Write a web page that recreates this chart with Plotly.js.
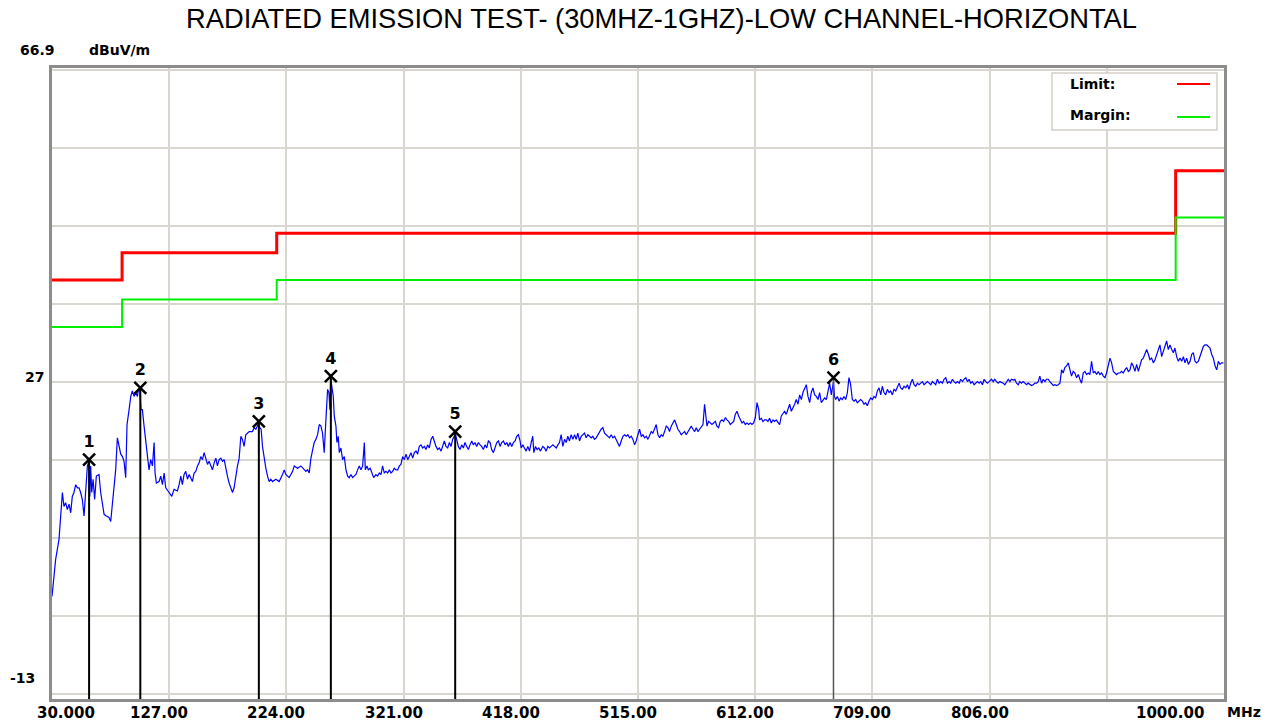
<!DOCTYPE html>
<html>
<head>
<meta charset="utf-8">
<script src="https://cdn.plot.ly/plotly-3.0.1.min.js"></script>
<style>html,body{margin:0;padding:0;background:#fff;}#chart{width:1275px;height:722px;}</style>
</head>
<body>
<div id="chart"></div>
<script>
// ---------------- DATA ----------------
const chartTitle = 'RADIATED EMISSION TEST- (30MHZ-1GHZ)-LOW CHANNEL-HORIZONTAL';
const yUnit = 'dBuV/m';
const xUnit = 'MHz';

// limit and margin (step lines, dBuV/m)
const limitFreq  = [30, 88, 216, 960, 1000];
const limitLevel = [40, 43.5, 46, 54, 54];
const marginLevel = [34, 37.5, 40, 48, 48];

const freqA = [30.0,31.7,33.0,35.8,37.2,38.6,39.9,41.3,42.7,44.1,45.5,46.8,48.2,49.6,51.0,52.4,53.7,55.1,56.5,57.9,
59.3,60.6,61.3,62.0,62.9,64.0,65.3,66.7,68.9,70.3,71.7,73.1,75.0,77.2,78.6,80.0,81.3,82.7,84.1,85.5,
86.9,88.3,89.6,91.0,92.1,93.8,95.2,96.5,97.9,99.3,100.7,101.5,102.6,103.7,104.8,106.2,107.6,109.0,110.3,111.7,
113.1,114.5,115.3,116.4,118.6,120.0,121.4,122.8,124.1,126.9,129.1,131.0,133.8,135.2,136.6,137.9,139.3,140.7,142.1,143.5,
144.9,146.2,147.6,149.0,150.4,151.8,153.1,154.5,155.9,157.3,158.7,160.0,161.4,162.8,164.2,165.6,166.9,168.3,169.7,171.1,
172.5,173.8,175.2,176.6,178.0,179.4,180.7,182.1,183.5,184.9,186.3,187.6,189.0,190.4,191.8,193.2,195.9,197.3,198.7,200.1,
200.9,202.0,203.1,204.2,205.6,207.0,208.4,209.7,211.1,212.5,215.3,218.0,220.8,222.2,223.5];
const levelA = [-0.5,2.1,4.2,6.8,10.2,12.8,11.0,11.5,10.6,11.3,10.2,12.3,12.8,13.8,13.4,13.4,12.8,11.9,9.8,13.6,
16.2,16.8,12.3,16.2,12.8,14.5,11.9,14.9,15.1,12.8,11.5,10.0,9.8,9.6,9.1,11.5,12.8,15.7,19.8,18.7,
17.7,17.4,16.8,14.7,21.5,23.4,25.1,25.8,25.1,25.6,25.1,26.0,26.1,23.4,23.4,21.3,19.2,17.2,15.7,17.0,
16.2,19.2,15.3,14.0,14.2,14.9,13.8,15.3,13.4,12.8,12.3,13.2,13.0,13.8,14.9,13.8,15.1,15.5,14.5,15.1,
14.7,14.2,15.3,15.5,16.2,16.6,17.4,17.0,17.9,17.2,16.4,16.8,16.2,15.7,16.6,17.2,16.2,17.0,17.2,16.8,
17.0,15.7,14.9,14.0,13.4,12.8,13.4,14.9,16.2,17.2,20.0,19.6,18.7,20.2,20.4,20.6,20.6,21.1,20.9,21.3,
21.6,21.1,20.9,18.7,17.0,15.9,14.9,14.2,14.5,14.2,14.5,14.2,15.1,15.7,15.1];

const freqB = [225.0,226.3,227.7,229.1,230.5,233.2,236.0,238.8,240.1,241.5,
242.9,244.3,245.7,247.0,248.4,249.8,251.2,252.6,253.9,255.3,
256.7,258.1,259.2,260.0,260.6,261.7,262.8,263.6,265.0,265.8,
266.9,267.8,269.1,270.5,271.9,273.3,274.7,276.0,277.4,278.8,
280.2,281.6,282.9,284.3,285.7,287.1,288.5,289.3,290.7,291.8,
293.4,294.5,296.2,298.1,299.5,300.9,302.3,303.6,305.0,306.4,
307.8,309.2,310.6,311.9,313.3,314.7,316.1,317.5,318.8,320.2,
321.6,323.0,324.4,325.7,327.1,328.5,329.9,331.3,332.6,334.0,
335.4,336.8,338.2,339.5,340.9,342.3,343.7,345.1,346.4,347.8,
349.2,350.6,352.0,353.3,354.7,356.1,357.5,358.9,360.3,361.6,
363.0,363.8,365.2,366.3,367.7,369.1,370.5,371.8,373.2,374.6,
376.0,377.4,378.7,380.1,381.5,382.9,384.3,385.6,387.0,388.4,
389.8,391.2,392.6,393.9,395.3,396.7,398.1,399.5,400.8,402.2,
403.6,405.0,406.4,407.7,409.1,410.5,411.9,413.3,414.6,416.0,
417.4];
const levelB = [14.9,14.7,15.1,15.5,16.2,15.9,16.2,15.7,15.5,15.7,
15.3,17.2,18.3,19.2,19.6,20.2,21.5,21.3,20.4,17.9,
22.1,26.0,25.6,23.4,27.4,26.4,25.1,22.6,21.3,19.2,
20.0,17.9,18.5,17.0,17.4,15.7,14.9,14.7,15.1,14.7,
14.9,15.1,15.7,16.2,15.7,16.2,19.2,15.7,16.2,15.7,
15.9,15.3,14.7,15.1,14.9,15.3,15.1,16.2,15.3,15.5,
15.3,15.7,15.3,15.5,15.9,15.7,15.7,16.2,16.4,17.4,
17.0,17.7,17.0,17.4,17.9,17.2,17.9,18.1,17.7,18.7,
18.9,18.5,18.7,18.3,18.9,18.5,19.6,20.0,19.2,18.7,
18.3,18.5,18.1,18.7,19.4,18.7,18.5,19.2,18.7,19.6,
20.0,20.3,19.4,18.7,18.3,18.9,18.5,19.2,18.7,18.3,
18.9,19.4,18.9,19.2,18.7,19.2,18.9,18.7,18.3,18.9,
18.5,19.4,19.2,18.3,17.9,18.7,19.2,19.4,18.7,19.2,
19.4,18.9,19.2,18.7,19.2,18.7,19.2,19.4,20.0,20.2,
19.4];

const freqC = [418.3,419.7,421.0,422.4,423.8,425.2,426.6,427.9,428.8,430.2,
431.5,432.9,434.3,436.2,437.6,439.0,440.4,441.7,443.1,444.5,
445.9,447.3,448.7,450.0,451.4,452.8,454.2,455.6,456.9,458.3,
459.7,461.1,462.5,463.8,465.2,466.6,468.0,469.4,470.7,472.1,
473.5,474.9,476.3,477.6,479.0,480.4,481.8,483.2,484.5,485.9,
487.3,488.7,490.1,491.4,492.8,494.2,495.6,497.0,498.4,499.7,
501.1,502.5,503.9,505.3,506.6,508.0,509.4,510.8,512.2,513.5,
514.9,516.3,517.7,519.1,520.4,521.8,523.2,524.6,526.0,527.3,
528.7,530.1,531.5,532.9,534.2,535.6,537.0,538.4,539.8,541.1,
542.5,543.9,545.3,546.7,548.0,549.4,550.8,552.2,553.6,554.9,
556.3,557.7,559.1,560.5,561.9,563.2,564.6,566.0,567.4,568.8,
570.1,570.9,572.1,573.4,574.8,576.2,577.6,579.0,580.3,581.7,
583.1,584.5,585.9,587.3,588.6,590.0,591.4,592.8,594.2,595.5,
596.9,598.3,599.7,601.1,602.4,603.8,605.2,606.6,608.0,609.3,
610.7,612.1,613.5,614.9];
const levelC = [18.5,18.9,18.5,18.1,18.7,18.1,19.2,20.0,17.9,18.7,
18.3,18.5,18.1,18.7,18.5,18.1,18.7,18.5,18.7,18.9,
18.7,18.5,18.9,19.2,20.2,18.7,19.6,19.2,20.0,19.4,
20.2,19.6,20.2,19.6,20.4,19.4,20.0,20.2,20.4,19.8,
20.2,20.0,19.8,20.0,19.6,19.8,20.2,20.6,20.9,21.1,
20.4,20.2,20.0,19.8,20.2,19.8,20.0,19.6,19.2,18.7,
19.4,20.0,20.2,20.0,20.2,19.8,20.0,19.6,18.9,19.4,
20.2,20.9,20.0,20.2,19.8,20.0,19.6,20.2,20.6,20.4,
20.9,21.5,20.2,19.8,20.2,20.0,20.6,21.3,21.1,20.6,
21.3,21.7,22.1,21.5,20.9,20.6,20.2,20.4,20.6,20.2,
20.6,21.1,21.3,20.9,20.6,21.1,20.6,20.9,21.3,21.5,
24.1,23.2,21.3,21.9,21.7,21.5,21.7,21.9,21.3,21.1,
21.9,22.1,21.9,22.4,22.1,21.9,21.5,21.7,21.9,22.8,
23.2,22.6,22.1,21.7,21.9,21.5,21.7,21.5,21.7,21.5,
21.7,22.4,24.3,23.4];

const freqD = [615.6,617.0,618.4,619.8,621.2,622.5,623.9,625.3,626.7,628.1,
629.4,630.8,632.2,633.6,635.0,636.3,637.7,639.1,640.5,641.9,
643.3,644.6,646.0,647.4,648.8,650.2,651.5,652.9,654.3,655.7,
657.1,658.4,659.8,661.2,662.6,664.0,665.3,666.7,668.1,669.5,
670.9,672.2,673.6,675.0,676.8,677.6,678.6,680.0,681.4,682.7,
684.1,685.5,686.9,688.3,689.6,691.0,692.4,693.8,695.2,696.5,
697.9,699.3,700.7,702.1,703.4,704.8,706.2,707.6,709.0,710.3,
711.7,713.1,714.5,715.9,717.2,718.6,720.0,721.4,722.8,724.1,
725.5,726.9,728.3,729.7,731.1,732.4,733.8,735.2,736.6,738.0,
739.3,740.7,742.1,743.5,744.9,746.2,747.6,749.0,750.4,751.8,
753.1,754.5,755.9,757.3,758.7,760.0,761.4,762.8,764.2,765.6,
766.9,768.3,769.7,771.1,772.5,773.8,775.2,776.6,778.0,779.4,
780.8,782.1,783.5,784.9,786.3,787.7,789.0,790.4,791.8,793.2,
794.6,795.9,797.3,798.7,800.1,801.5,802.8,804.2,805.6];
const levelD = [22.1,22.3,21.9,22.1,22.1,21.9,22.3,21.7,22.1,21.9,
22.1,21.7,21.5,22.6,23.0,23.2,22.8,23.4,24.1,23.2,
23.6,24.1,24.7,24.1,25.3,24.7,25.6,26.0,26.6,25.1,
24.3,25.6,26.2,25.3,25.1,24.7,25.6,24.3,24.7,24.9,
24.7,26.0,26.8,25.3,27.0,25.1,24.7,25.1,24.5,24.9,
24.7,25.1,24.7,25.6,27.5,26.6,24.7,24.5,24.7,24.3,
24.5,24.7,24.5,24.1,24.3,23.9,24.5,24.9,24.7,25.1,
24.9,25.8,26.2,25.3,26.4,25.6,25.3,26.0,25.6,25.8,
25.3,26.0,25.8,26.4,26.8,26.2,26.0,26.4,26.2,26.6,
26.0,26.8,27.3,26.6,26.4,26.8,26.6,26.8,27.0,26.6,
26.8,27.0,26.8,26.6,27.0,26.8,26.6,27.3,26.8,27.0,
26.8,27.3,27.5,26.8,27.0,26.8,27.3,27.0,26.8,27.0,
26.8,27.3,27.0,27.3,27.5,27.0,27.3,26.8,27.0,26.6,
26.8,27.0,26.8,27.0,26.6,27.3,27.0,26.8,27.0];

const freqE = [807.6,809.0,810.3,811.7,813.1,814.5,815.9,817.2,818.6,820.0,
821.4,822.8,824.1,825.5,826.9,828.3,829.7,831.0,832.4,833.8,
835.2,836.6,837.9,839.3,840.7,842.1,843.5,844.9,846.2,847.6,
849.0,850.4,851.8,853.1,854.5,855.9,857.3,858.7,860.0,861.4,
862.8,864.2,865.6,866.9,868.3,869.7,871.1,872.5,873.8,875.2,
876.6,878.0,879.4,880.7,882.1,883.5,884.9,886.3,887.7,889.0,
890.4,891.8,893.2,894.6,895.9,897.3,898.7,900.1,901.5,902.8,
904.2,905.6,907.0,908.4,909.7,911.1,912.5,913.9,915.3,916.6,
918.0,919.4,920.8,922.2,923.5,924.9,926.3,927.7,929.1,930.5,
931.8,933.2,934.6,936.0,937.4,938.7,940.1,941.5,942.9,944.3,
945.6,947.0,948.4,949.8,951.2,952.5,953.9,955.3,956.7,958.1,
959.4,960.8,962.2,963.6,965.0,966.4,967.7,969.1,970.5,971.9,
973.3,974.6,976.0,977.4,978.8,980.2,981.5,982.9,984.3,985.7,
987.1,988.4,989.8,991.2,992.6,994.0,995.3,996.7,998.1,999.5];
const levelE = [27.3,27.0,27.3,27.0,26.8,27.0,26.9,26.8,26.6,27.0,
27.3,27.0,27.3,27.2,27.3,26.8,26.6,27.0,26.8,27.0,
26.8,26.6,26.8,26.6,26.5,26.6,26.8,26.8,27.0,27.7,
26.8,27.3,27.0,27.3,27.3,27.0,26.8,26.5,26.6,26.5,
26.6,26.8,28.5,28.1,28.8,29.0,29.4,28.3,27.7,28.3,
28.1,27.5,27.9,27.3,26.8,28.1,28.3,27.9,28.1,27.9,
29.6,28.1,28.3,27.9,28.3,27.9,28.1,27.7,27.5,28.1,
29.0,30.0,29.4,28.3,28.1,27.9,28.1,28.1,28.3,28.1,
28.5,28.8,28.3,28.5,29.4,29.0,28.3,29.2,28.3,29.0,
29.8,30.0,30.7,31.1,30.5,29.8,30.0,29.4,29.8,30.5,
31.1,31.7,30.2,30.9,31.5,32.2,31.1,31.7,31.1,30.7,
31.3,30.2,29.6,30.0,29.6,30.2,29.4,30.0,29.2,29.6,
30.5,30.7,29.6,29.4,29.6,30.2,30.7,31.5,31.7,31.7,
31.5,31.3,30.5,30.0,29.0,28.5,29.6,29.2,29.4,29.4];

// peak markers
const markerNo    = ['1','2','3','4','5','6'];
const markerFreq  = [60.7, 103.1, 201.2, 260.8, 363.7, 676.8];
const markerLevel = [17.0, 26.2, 21.9, 27.7, 20.6, 27.5];

// axis labels
const xTickVals = [30, 127, 224, 321, 418, 515, 612, 709, 806, 1000];
const xTickText = ['30.000','127.00','224.00','321.00','418.00','515.00','612.00','709.00','806.00','1000.00'];
const yLabelVals = [66.9, 27, -13];
const yLabelText = ['66.9', '27', '-13'];

const legendNames = ['Limit:', 'Margin:'];

// ---------------- STYLE / LAYOUT ----------------
const X_RANGE = [30, 1000];
const Y_RANGE = [-13.64, 67.15];
const xTickShift = [14, -10, -10, -10, -10, -10, -10, -10, -10, -54];
const yLabelPos = [ {xanchor:'center', xshift:-15, yshift:20},
                    {xanchor:'right',  xshift:-6,  yshift:5},
                    {xanchor:'right',  xshift:-15, yshift:16} ];
const markerLineColor = ['#000','#000','#000','#000','#000','#555'];
const lblFont = {family:'DejaVu Sans, Verdana, sans-serif', size:14, color:'#000', weight:'bold'};
const tickFont = {family:'DejaVu Sans, Verdana, sans-serif', size:15, color:'#000', weight:'bold'};
const numFont = {family:'DejaVu Sans, Verdana, sans-serif', size:16, color:'#000', weight:'bold'};

const freqAll  = [].concat(freqA, freqB, freqC, freqD, freqE);
const levelAll = [].concat(levelA, levelB, levelC, levelD, levelE);

const traces = [];
traces.push({x: limitFreq, y: limitLevel, type:'scatter', mode:'lines', line:{shape:'hv', color:'#ff0000', width:3}, hoverinfo:'skip'});
traces.push({x: limitFreq, y: marginLevel, type:'scatter', mode:'lines', line:{shape:'hv', color:'#00ee00', width:2}, hoverinfo:'skip'});
traces.push({x: freqAll, y: levelAll, type:'scatter', mode:'lines', line:{color:'#0000ff', width:1.2}, hoverinfo:'skip'});
markerFreq.forEach((f, i) => {
  traces.push({x:[f, f], y:[markerLevel[i], Y_RANGE[0]], type:'scatter', mode:'lines',
    line:{color: markerLineColor[i], width: i === 5 ? 1.5 : 2}, hoverinfo:'skip'});
});
traces.push({x: markerFreq, y: markerLevel, text: markerNo, type:'scatter', mode:'markers+text',
  textposition:'top center', textfont: numFont, cliponaxis:false,
  marker:{symbol:'x-thin', size:12, color:'#000', line:{color:'#000', width:2.5}}, hoverinfo:'skip'});

const annotations = [];
xTickVals.forEach((v, i) => {
  annotations.push({x: v, xref:'x', y: 0, yref:'paper', yanchor:'top', xanchor:'center', yshift:-3,
    xshift: xTickShift[i], text: xTickText[i], showarrow:false, font: tickFont});
});
annotations.push({x: 1, xref:'paper', y: 0, yref:'paper', yanchor:'top', xanchor:'center', yshift:-3, xshift:20,
  text: xUnit, showarrow:false, font: lblFont});
yLabelVals.forEach((v, i) => {
  const p = yLabelPos[i];
  annotations.push({x: 0, xref:'paper', y: v, yref:'y', xanchor: p.xanchor, yanchor:'middle',
    xshift: p.xshift, yshift: p.yshift, text: yLabelText[i], showarrow:false, font: lblFont});
});
annotations.push({x: 0, xref:'paper', y: yLabelVals[0], yref:'y', xanchor:'center', yanchor:'middle',
  xshift: 67, yshift: 20, text: yUnit, showarrow:false, font: lblFont});
// legend texts
annotations.push({x: 0.8669, xref:'paper', y: 0.9746, yref:'paper', xanchor:'left', yanchor:'middle',
  text: legendNames[0], showarrow:false, font: lblFont});
annotations.push({x: 0.8669, xref:'paper', y: 0.9255, yref:'paper', xanchor:'left', yanchor:'middle',
  text: legendNames[1], showarrow:false, font: lblFont});

const shapes = [
  {type:'rect', xref:'paper', yref:'paper', x0:0.8532, x1:0.9940, y0:0.9017, y1:0.9921,
   fillcolor:'#ffffff', line:{color:'#d4d0c8', width:1.5}, layer:'above'},
  {type:'line', xref:'paper', yref:'paper', x0:0.9599, x1:0.9881, y0:0.9746, y1:0.9746,
   line:{color:'#ff0000', width:2}, layer:'above'},
  {type:'line', xref:'paper', yref:'paper', x0:0.9599, x1:0.9881, y0:0.9223, y1:0.9223,
   line:{color:'#00ee00', width:2}, layer:'above'}
];

const layout = {
  width:1275, height:722,
  margin:{l:52, r:51, t:68, b:23, pad:0},
  paper_bgcolor:'#ffffff', plot_bgcolor:'#ffffff',
  showlegend:false,
  title:{text: chartTitle, x:0.5188, xanchor:'center', y:0.9751, yanchor:'middle',
    font:{family:'Liberation Sans, Arial, sans-serif', size:27.3, color:'#000'}},
  xaxis:{range: X_RANGE, tick0: 30, dtick: 97, showgrid:true, gridcolor:'#d9d6cf', gridwidth:2,
    showticklabels:false, ticks:'', zeroline:false, showline:true, mirror:true,
    linecolor:'#8c8c8c', linewidth:3, fixedrange:true},
  yaxis:{range: Y_RANGE, tick0: -13, dtick: 79.9/8, showgrid:true, gridcolor:'#d9d6cf', gridwidth:2,
    showticklabels:false, ticks:'', zeroline:false, showline:true, mirror:true,
    linecolor:'#8c8c8c', linewidth:3, fixedrange:true},
  annotations: annotations,
  shapes: shapes
};

Plotly.newPlot('chart', traces, layout, {displayModeBar:false, staticPlot:true});
</script>
</body>
</html>
